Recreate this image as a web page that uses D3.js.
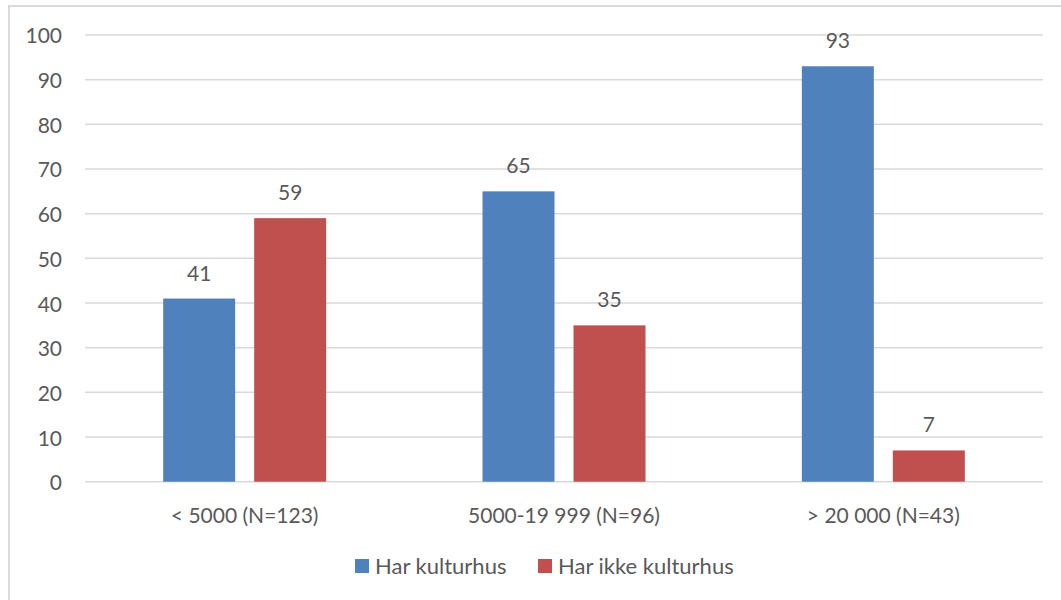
<!DOCTYPE html>
<html>
<head>
<meta charset="utf-8">
<script src="https://cdn.jsdelivr.net/npm/d3@7"></script>
<style>
  html, body { margin: 0; padding: 0; background: #fff; }
  svg text { font-family: Lato, "Open Sans", sans-serif; fill: #595959; }
</style>
</head>
<body>
<svg id="chart" width="1061" height="600"></svg>
<script>
const categories = ["< 5000 (N=123)", "5000-19 999 (N=96)", "> 20 000 (N=43)"];
const seriesNames = ["Har kulturhus", "Har ikke kulturhus"];
const harKulturhus = [41, 65, 93];
const harIkkeKulturhus = [59, 35, 7];
const yTicks = [0, 10, 20, 30, 40, 50, 60, 70, 80, 90, 100];
const colors = ["#4F81BD", "#C0504D"];

const seriesValues = [harKulturhus, harIkkeKulturhus];
const svg = d3.select("#chart");

// outer frame
svg.append("rect")
  .attr("x", 9).attr("y", 6).attr("width", 1200).attr("height", 800)
  .attr("fill", "none").attr("stroke", "#D9D9D9").attr("stroke-width", 2);

const plotLeft = 85, plotRight = 1043, plotTop = 35, plotBottom = 481.7;

const y = d3.scaleLinear().domain([0, 100]).range([plotBottom, plotTop]);
const x0 = d3.scaleBand().domain(categories).range([plotLeft, plotRight]).padding(0);
const x1 = d3.scaleBand().domain(seriesNames).range([0, x0.bandwidth()])
  .paddingInner(0.209).paddingOuter(0.859);

// gridlines
svg.append("g").selectAll("line").data(yTicks).join("line")
  .attr("x1", plotLeft).attr("x2", plotRight)
  .attr("y1", d => y(d)).attr("y2", d => y(d))
  .attr("stroke", "#D9D9D9").attr("stroke-width", 1.5);

// y axis labels
const yAxis = d3.axisLeft(y).tickValues(yTicks).tickSize(0).tickPadding(0);
const yg = svg.append("g").attr("transform", `translate(62,0)`).call(yAxis);
yg.select(".domain").remove();
yg.selectAll("text").attr("font-size", 21).attr("fill", "#595959")
  .style("font-family", "Lato, sans-serif").attr("dy", "0.38em");

// bars
const groups = svg.append("g").selectAll("g").data(categories).join("g")
  .attr("transform", d => `translate(${x0(d)},0)`);

groups.each(function(cat, ci) {
  const g = d3.select(this);
  const data = seriesNames.map((s, si) => ({ s, si, v: seriesValues[si][ci] }));
  g.selectAll("rect").data(data).join("rect")
    .attr("x", d => x1(d.s))
    .attr("width", x1.bandwidth())
    .attr("y", d => y(d.v))
    .attr("height", d => y(0) - y(d.v))
    .attr("fill", d => colors[d.si]);
  g.selectAll("text").data(data).join("text")
    .attr("x", d => x1(d.s) + x1.bandwidth() / 2)
    .attr("y", d => y(d.v) - 18)
    .attr("text-anchor", "middle")
    .attr("font-size", 21)
    .text(d => d.v);
});

// x axis labels
const xAxis = d3.axisBottom(x0).tickSize(0).tickPadding(0);
const xg = svg.append("g").attr("transform", `translate(0,${plotBottom})`).call(xAxis);
xg.select(".domain").remove();
xg.selectAll("text").attr("font-size", 21).attr("fill", "#595959")
  .style("font-family", "Lato, sans-serif")
  .attr("dy", null).attr("y", 41);

// legend
const legendX = [355, 538];
const lg = svg.append("g").selectAll("g").data(seriesNames).join("g")
  .attr("transform", (d, i) => `translate(${legendX[i]},559)`);
lg.append("rect").attr("width", 14).attr("height", 14)
  .attr("fill", (d, i) => colors[i]);
lg.append("text").attr("x", 20).attr("y", 14.5).attr("font-size", 22).text(d => d);
</script>
</body>
</html>
